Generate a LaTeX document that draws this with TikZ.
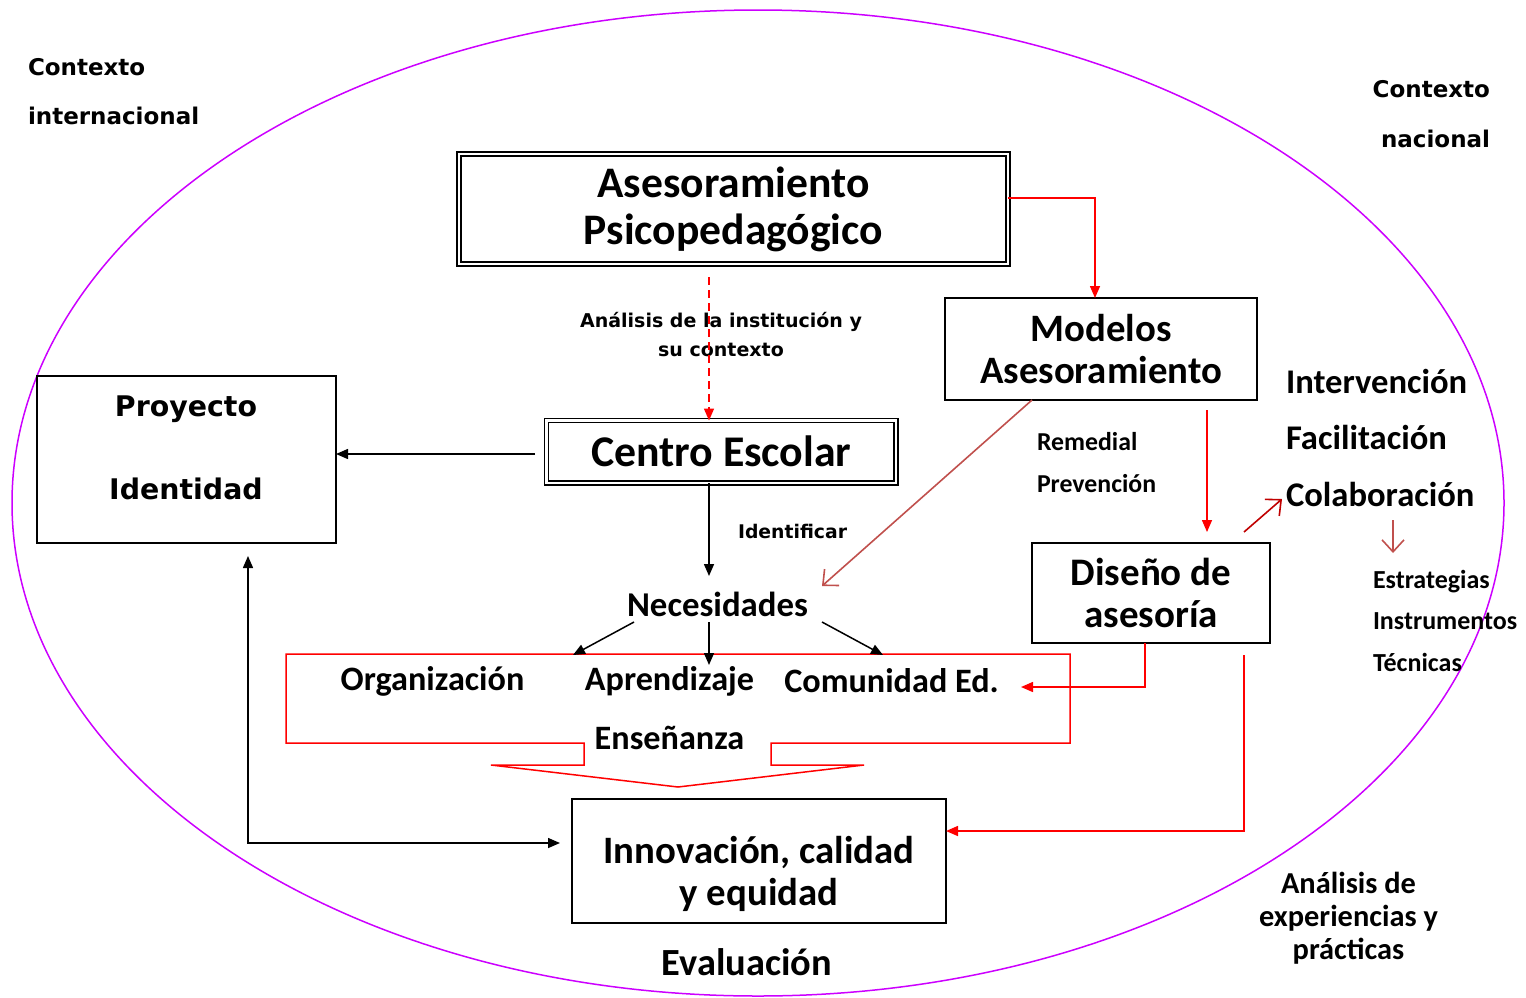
\documentclass[tikz,border=0pt]{standalone}
\usepackage{fontspec}
\usetikzlibrary{arrows.meta}
\newfontfamily\calb{Carlito}
\newfontfamily\dvb{DejaVu Sans}
\newcommand{\fsz}[2]{\fontsize{#1}{#2}\selectfont}
\definecolor{elcol}{RGB}{204,0,255}
\definecolor{brred}{RGB}{192,80,77}
\definecolor{dkred}{RGB}{192,0,0}
\definecolor{pured}{RGB}{255,0,0}
\tikzset{
  box/.style={draw=black, line width=0.75pt, rectangle, inner sep=0pt, outer sep=0pt, align=center},
  dblbox/.style={draw=black, double=white, line width=0.7pt, double distance=1.3pt, rectangle, inner sep=0pt, outer sep=0pt, align=center},
  txt/.style={inner sep=0pt, outer sep=0pt},
  blk/.style={draw=black, line width=0.75pt, -{Triangle[length=6pt,width=5pt]}},
  redarr/.style={draw=pured, line width=0.75pt, -{Triangle[length=6pt,width=5pt]}},
  openarr/.style={line width=0.8pt, -{Straight Barb[length=6pt,width=11pt]}},
}
\begin{document}
\begin{tikzpicture}[x=0.5pt,y=-0.5pt]
\useasboundingbox (0,0) rectangle (1526,997);
% outer ellipse
\draw[elcol, line width=0.75pt] (758,503) ellipse [x radius=746, y radius=493];

% context labels
\node[txt, anchor=west, align=left, font={\dvb\bfseries\fsz{11.5}{24.5}}] (ctxI) at (28,91.5) {Contexto\\internacional};
\node[txt, anchor=east, align=right, font={\dvb\bfseries\fsz{11.5}{25}}] (ctxN) at (1490,114) {Contexto\\nacional};

% main boxes (sizes in pt = px/2)
\node[dblbox, minimum width=274.5pt, minimum height=55pt, font={\calb\bfseries\fsz{21.8}{23.5}}] (ases) at (733.5,209) {Asesoramiento\\Psicopedag\'ogico};
\node[box, minimum width=156pt, minimum height=51pt, font={\calb\bfseries\fsz{19.4}{21}}] (mod) at (1101,349) {Modelos\\Asesoramiento};
\node[dblbox, minimum width=174.75pt, minimum height=31.25pt, font={\calb\bfseries\fsz{21.9}{23.5}}] (cen) at (721.25,451.75) {Centro Escolar};
\node[box, minimum width=149.5pt, minimum height=83.5pt] (proj) at (186.5,459.5) {};
\node[txt, align=center, font={\dvb\bfseries\fsz{14.2}{41.5}}] (projt) at (186,447.5) {Proyecto\\Identidad};
\node[box, minimum width=119pt, minimum height=50pt, font={\calb\bfseries\fsz{19.5}{21}}] (dis) at (1151,593) {Dise\~no de\\asesor\'ia};
\node[box, minimum width=187pt, minimum height=62pt] (inn) at (759,861) {};
\node[txt, align=center, font={\calb\bfseries\fsz{19.4}{21}}] (innt) at (759,874) {Innovaci\'on, calidad\\y equidad};

% labels
\node[txt, align=center, font={\dvb\bfseries\fsz{9.5}{14.5}}] (lblA) at (721,334.5) {An\'alisis de la instituci\'on y\\su contexto};
\node[txt, anchor=west, font={\dvb\bfseries\fsz{9.4}{12}}] (lblI) at (738,531) {Identificar};
\node[txt, anchor=west, align=left, font={\calb\bfseries\fsz{12.9}{21}}] (rem) at (1037,463) {Remedial\\Prevenci\'on};
\node[txt, anchor=west, align=left, font={\calb\bfseries\fsz{17.3}{28.25}}] (intv) at (1286,437.5) {Intervenci\'on\\Facilitaci\'on\\Colaboraci\'on};
\node[txt, anchor=west, align=left, font={\calb\bfseries\fsz{13}{20.75}}] (estr) at (1373,620.5) {Estrategias\\Instrumentos\\T\'ecnicas};
\node[txt, font={\calb\bfseries\fsz{17.4}{20}}] (nec) at (717.5,604) {Necesidades};
\node[txt, font={\calb\bfseries\fsz{17.1}{20}}] (org) at (432.5,681) {Organizaci\'on};
\node[txt, font={\calb\bfseries\fsz{17.1}{20}}] (apr) at (669.5,681) {Aprendizaje};
\node[txt, font={\calb\bfseries\fsz{17.1}{20}}] (com) at (891.5,681) {Comunidad Ed.};
\node[txt, font={\calb\bfseries\fsz{17.1}{20}}] (ens) at (669.5,738) {Ense\~nanza};
\node[txt, font={\calb\bfseries\fsz{19.2}{21}}] (eva) at (747,962) {Evaluaci\'on};
\node[txt, align=center, font={\calb\bfseries\fsz{15.2}{16.5}}] (aexp) at (1348.5,918) {An\'alisis de\\experiencias y\\pr\'acticas};

% red callout arrow shape
\draw[pured, line width=0.75pt] (286,654) -- (1070,654) -- (1070,743) -- (771,743) -- (771,765) -- (864,765) -- (678,787) -- (491,765) -- (584,765) -- (584,743) -- (286,743) -- cycle;

% coordinates
\coordinate (r1) at (1095,198);
\coordinate (d0) at (709,277);
\coordinate (c0) at (535,454);
\coordinate (n0) at (709,576);
\coordinate (m0) at (1032,400);
\coordinate (m1) at (822,586);
\coordinate (s0) at (1207,410);
\coordinate (s1) at (1207,532);
\coordinate (k0) at (1244,532);
\coordinate (k1) at (1282,499);
\coordinate (e0) at (1393,520);
\coordinate (e1) at (1393,553);
\coordinate (q0) at (1145,643);
\coordinate (q1) at (1021,687);
\coordinate (p0) at (1244,655);
\coordinate (p1) at (1244,831);
\coordinate (a0) at (634,622);
\coordinate (a1) at (573,655);
\coordinate (a2) at (709,622);
\coordinate (a3) at (709,665);
\coordinate (a4) at (822,622);
\coordinate (a5) at (883,655);
\coordinate (b0) at (248,556);
\coordinate (b1) at (248,843);
\coordinate (b2) at (560,843);

% connectors
\draw[redarr] (ases.east |- r1) -- (r1) -- (mod.north -| r1);
\draw[redarr, dashed, dash pattern=on 4pt off 2.5pt] (d0) -- (cen.north -| d0);
\draw[blk] (c0) -- (proj.east |- c0);
\draw[blk] (cen.south -| n0) -- (n0);
\draw[openarr, brred] (mod.south -| m0) -- (m1);
\draw[redarr] (s0) -- (s1);
\draw[openarr, dkred] (k0) -- (k1);
\draw[openarr, brred] (e0) -- (e1);
\draw[redarr] (dis.south -| q0) |- (q1);
\draw[redarr] (p0) -- (p1) -- (inn.east |- p1);
\draw[blk] (a0) -- (a1);
\draw[blk] (a2) -- (a3);
\draw[blk] (a4) -- (a5);
\draw[draw=black, line width=0.75pt, {Triangle[length=6pt,width=5pt]}-{Triangle[length=6pt,width=5pt]}] (b0) -- (b1) -- (b2);
\end{tikzpicture}
\end{document}
